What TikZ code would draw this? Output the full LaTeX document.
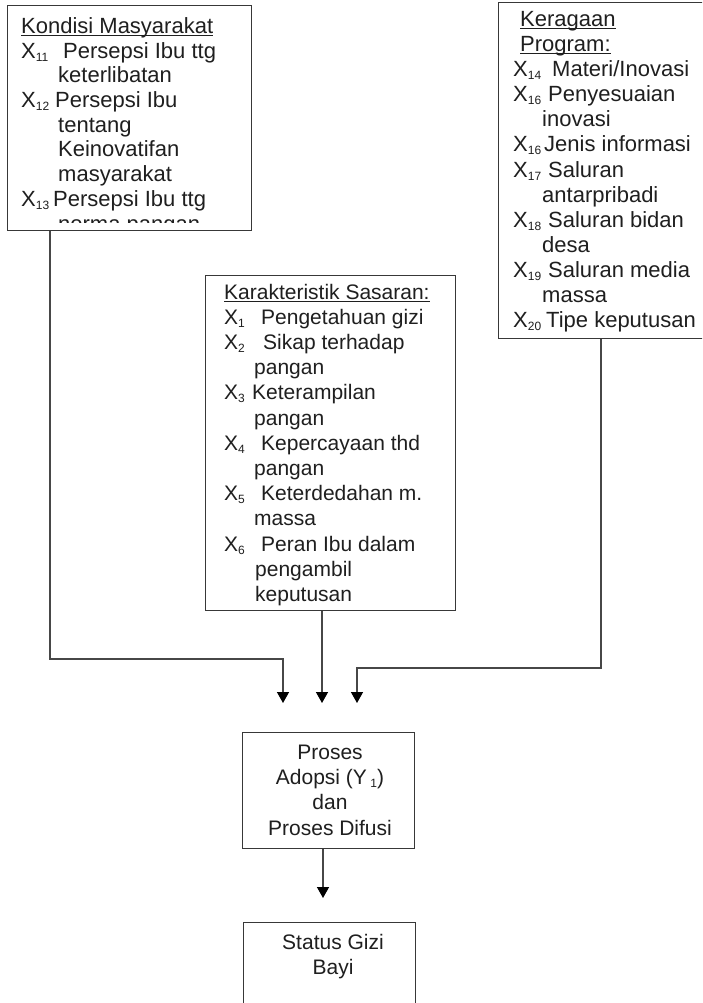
\documentclass[tikz,border=0pt]{standalone}
\usepackage{fontspec}
\setmainfont{Liberation Sans}
\usetikzlibrary{arrows.meta}
\newcommand{\sbx}[1]{\raisebox{-3pt}{\fontsize{12}{12}\selectfont #1}}
\newcommand{\xlab}[2]{\makebox[#2][l]{X\sbx{#1}}}
\newcommand{\ind}[1]{\hspace*{#1}}
\newsavebox{\ttlbox}
\newcommand{\ttl}[1]{\sbox{\ttlbox}{#1}\rlap{\rule[-2.5pt]{\wd\ttlbox}{0.9pt}}\usebox{\ttlbox}}
\begin{document}
\begin{tikzpicture}[x=1pt,y=-1pt,
  box/.style={draw=black!78, line width=1.3pt, inner sep=0pt, anchor=north west},
  txt/.style={inner sep=0pt, anchor=base west, text=black!88, font=\fontsize{21}{25.2}\selectfont},
  bigtxt/.style={txt, font=\fontsize{22}{24.7}\selectfont},
  ctxt/.style={inner sep=0pt, anchor=base, text=black!88, font=\fontsize{21}{25.2}\selectfont},
  arr/.style={draw=black!72, line width=1.4pt, -{Triangle[width=12pt,length=11pt,color=black]}}]
\clip (0,0) rectangle (702,1003);
\fill[white] (0,0) rectangle (702,1003);

% boxes
\node[box, minimum width=244pt, minimum height=225pt] (kondisi) at (7,5) {};
\node[box, minimum width=260pt, minimum height=336pt] (keragaan) at (498,2) {};
\node[box, minimum width=250pt, minimum height=335pt] (karakteristik) at (205,275) {};
\node[box, minimum width=172pt, minimum height=116pt] (proses) at (242,732) {};
\node[box, minimum width=172pt, minimum height=130pt] (status) at (243,922) {};

% left box text (clipped)
\begin{scope}
\clip (kondisi.north west) rectangle ([yshift=8.5pt]kondisi.south east);
\node[bigtxt] (kondisiTxt) at (21,33.5) {\begin{tabular}[t]{@{}l@{}}
\ttl{Kondisi Masyarakat}\\
\xlab{11}{42pt}Persepsi Ibu ttg\\
\ind{37pt}keterlibatan\\
\xlab{12}{34pt}Persepsi Ibu\\
\ind{37pt}tentang\\
\ind{37pt}Keinovatifan\\
\ind{37pt}masyarakat\\
\xlab{13}{32pt}Persepsi Ibu ttg\\
\ind{37pt}norma pangan
\end{tabular}};
\end{scope}

% right box text
\node[txt, font=\fontsize{22}{25.1}\selectfont] (keragaanTxt) at (513,26.5) {\begin{tabular}[t]{@{}l@{}}
\ind{7pt}\ttl{Keragaan}\\
\ind{7pt}\ttl{Program:}\\
\xlab{14}{39pt}Materi/Inovasi\\
\xlab{16}{35pt}Penyesuaian\\
\ind{29pt}inovasi\\
\xlab{16}{31pt}Jenis informasi\\
\xlab{17}{35pt}Saluran\\
\ind{29pt}antarpribadi\\
\xlab{18}{35pt}Saluran bidan\\
\ind{29pt}desa\\
\xlab{19}{35pt}Saluran media\\
\ind{29pt}massa\\
\xlab{20}{33pt}Tipe keputusan
\end{tabular}};

% middle box text
\node[txt] (karakteristikTxt) at (224,299) {\begin{tabular}[t]{@{}l@{}}
\ttl{Karakteristik Sasaran:}\\
\xlab{1}{37pt}Pengetahuan gizi\\
\xlab{2}{39pt}Sikap terhadap\\
\ind{30pt}pangan\\
\xlab{3}{28pt}Keterampilan\\
\ind{30pt}pangan\\
\xlab{4}{37pt}Kepercayaan thd\\
\ind{30pt}pangan\\
\xlab{5}{37pt}Keterdedahan m.\\
\ind{30pt}massa\\
\xlab{6}{37pt}Peran Ibu dalam\\
\ind{31pt}pengambil\\
\ind{31pt}keputusan
\end{tabular}};

% proses text
\node[ctxt] (prosesTxt) at (330,759.5) {\begin{tabular}[t]{@{}c@{}}
Proses\\
Adopsi (Y\,\sbx{1})\\
dan\\
Proses Difusi
\end{tabular}};

% status text
\node[ctxt] (statusTxt) at (333,949.5) {\begin{tabular}[t]{@{}c@{}}
Status Gizi\\
Bayi
\end{tabular}};

% connectors
\coordinate (tipL) at (283,703);
\coordinate (tipM) at (322,703);
\coordinate (tipR) at (357,703);
\coordinate (bendL) at (50,659);
\coordinate (bendR) at (601,668);
\coordinate (tipP) at (323,898);

\draw[arr] (kondisi.south west -| bendL) -- (bendL) -| (tipL);
\draw[arr] (karakteristik.south -| tipM) -- (tipM);
\draw[arr] (keragaan.south west -| bendR) -- (bendR) -| (tipR);
\draw[arr] (proses.south -| tipP) -- (tipP);
\end{tikzpicture}
\end{document}
